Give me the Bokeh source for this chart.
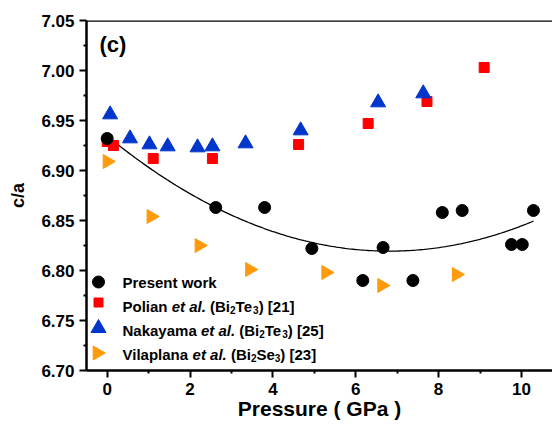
import numpy as np
from bokeh.plotting import figure
from bokeh.models import Range1d, FixedTicker, PrintfTickFormatter, Label, Span
from bokeh.embed import file_html
from bokeh.resources import INLINE

# ---------------- data ----------------
present_p = [0.0, 2.62, 3.80, 4.94, 6.17, 6.66, 7.38, 8.09, 8.57, 9.76, 10.02, 10.29]
present_ca = [6.932, 6.863, 6.863, 6.822, 6.790, 6.823, 6.790, 6.858, 6.860, 6.826, 6.826, 6.860]

polian_p = [0.0, 0.15, 1.11, 2.54, 4.62, 6.30, 7.72, 9.10]
polian_ca = [6.929, 6.925, 6.912, 6.912, 6.926, 6.947, 6.969, 7.003]

nakayama_p = [0.07, 0.55, 1.02, 1.46, 2.18, 2.54, 3.34, 4.67, 6.54, 7.63]
nakayama_ca = [6.956, 6.932, 6.926, 6.924, 6.923, 6.924, 6.927, 6.940, 6.968, 6.977]

vilaplana_p = [0.0, 1.06, 2.22, 3.44, 5.28, 6.63, 8.43]
vilaplana_ca = [6.909, 6.854, 6.825, 6.801, 6.798, 6.785, 6.796]

x_ticks = [0, 2, 4, 6, 8, 10]
x_minor_ticks = [1, 3, 5, 7, 9]
y_ticks = [6.70, 6.75, 6.80, 6.85, 6.90, 6.95, 7.00, 7.05]
y_minor_ticks = [6.725, 6.775, 6.825, 6.875, 6.925, 6.975, 7.025]

legend_names = ["Present work", "Polian", "Nakayama", "Vilaplana"]

X0, X1 = -0.5, 10.75
Y0, Y1 = 6.70, 7.05
FRAME_W, FRAME_H = 466, 350

FONT = "Liberation Sans"
C_PRE, C_POL, C_NAK, C_VIL = "black", "#FF0000", "#0036CC", "#FF9A0A"

# ---------------- figure ----------------
p = figure(frame_width=FRAME_W, frame_height=FRAME_H,
           x_range=Range1d(X0, X1), y_range=Range1d(Y0, Y1),
           output_backend="svg", toolbar_location=None,
           min_border_left=86, min_border_right=0, min_border_top=20,
           min_border_bottom=10)
p.title.visible = False
p.outline_line_color = None
p.grid.visible = False
p.background_fill_color = "white"

for ax in (p.xaxis[0], p.yaxis[0]):
    ax.axis_line_width = 2.5
    ax.axis_line_color = "black"
    ax.major_tick_line_width = 2
    ax.minor_tick_line_width = 2
    ax.major_tick_out = 7
    ax.major_tick_in = 0
    ax.minor_tick_out = 3
    ax.minor_tick_in = 0
    ax.major_label_text_font = FONT
    ax.major_label_text_font_style = "bold"
    ax.major_label_text_font_size = "17px"
    ax.major_label_text_color = "black"
    ax.axis_label_text_font = FONT
    ax.axis_label_text_font_style = "bold"
    ax.axis_label_text_color = "black"

p.xaxis.ticker = FixedTicker(ticks=x_ticks, minor_ticks=x_minor_ticks)
p.yaxis.ticker = FixedTicker(ticks=y_ticks, minor_ticks=y_minor_ticks)
p.yaxis.formatter = PrintfTickFormatter(format="%.2f")
p.xaxis.axis_label = "Pressure ( GPa )"
p.yaxis.axis_label = "c/a"
p.xaxis.axis_label_text_font_size = "21px"
p.yaxis.axis_label_text_font_size = "18px"
p.xaxis.major_label_standoff = 5
p.yaxis.major_label_standoff = 5
p.xaxis.axis_label_standoff = -1
p.yaxis.axis_label_standoff = 10

# top frame line
p.add_layout(Span(location=Y1, dimension="width", line_color="black", line_width=2.5))

# quadratic fit of present work
coef = np.polyfit(present_p, present_ca, 2)
fx = np.linspace(min(present_p), max(present_p), 200)
p.line(fx, np.polyval(coef, fx), line_color="black", line_width=1.3)

p.scatter(polian_p, polian_ca, marker="square", size=10,
          fill_color=C_POL, line_color=C_POL)
p.scatter(nakayama_p, nakayama_ca, marker="triangle", size=15,
          fill_color=C_NAK, line_color=C_NAK)
p.scatter(vilaplana_p, vilaplana_ca, marker="triangle", size=14, angle=-np.pi / 2,
          fill_color=C_VIL, line_color=C_VIL)
p.scatter(present_p, present_ca, marker="circle", size=12,
          fill_color=C_PRE, line_color=C_PRE)

# ---------------- legend (drawn in frame pixel offsets) ----------------
PX = (X1 - X0) / FRAME_W
PY = (Y1 - Y0) / FRAME_H


def swatch(dx, dy, **kw):
    p.scatter([X0 + dx * PX], [Y0 + dy * PY], **kw)


swatch(12, 88.5, marker="circle", size=12, fill_color=C_PRE, line_color=C_PRE)
swatch(12, 68, marker="square", size=9, fill_color=C_POL, line_color=C_POL)
swatch(12, 42.3, marker="triangle", size=15, fill_color=C_NAK, line_color=C_NAK)
swatch(10.7, 17.5, marker="triangle", size=14, angle=-np.pi / 2,
       fill_color=C_VIL, line_color=C_VIL)

W = {" ": 278, "(": 333, ")": 333, "[": 333, "]": 333, ".": 278,
     "0": 556, "1": 556, "2": 556, "3": 556, "4": 556, "5": 556,
     "B": 722, "N": 722, "P": 667, "S": 667, "T": 611, "V": 667,
     "a": 556, "e": 556, "i": 278, "k": 556, "l": 278, "m": 889, "n": 611,
     "o": 611, "p": 611, "r": 389, "s": 556, "t": 333, "w": 778, "y": 556}


def tw(s, size):
    return sum(W.get(c, 556) for c in s) * size / 1000.0


def add_runs(x_off, y_off, pieces):
    x = x_off
    for txt, style, size, dy in pieces:
        lead = len(txt) - len(txt.lstrip())
        p.add_layout(Label(x=X0, y=Y0, x_offset=x + lead * W[" "] * size / 1000.0,
                           y_offset=y_off + dy, text=txt.strip(), text_font=FONT,
                           text_font_style=style, text_font_size=f"{size}px",
                           text_color="black", text_baseline="alphabetic",
                           text_align="left"))
        x += tw(txt, size)


FS, SS, SD = 15, 10, -3.5
add_runs(36, 88.5, [(legend_names[0], "bold", FS, 0)])
add_runs(36, 64.5, [(legend_names[1] + " ", "bold", FS, 0), ("et al.", "bold italic", FS, 0),
                    (" (Bi", "bold", FS, 0), ("2", "bold", SS, SD), ("Te", "bold", FS, 0),
                    ("3", "bold", SS, SD), (") [21]", "bold", FS, 0)])
add_runs(36, 40.5, [(legend_names[2] + " ", "bold", FS, 0), ("et al.", "bold italic", FS, 0),
                    (" (Bi", "bold", FS, 0), ("2", "bold", SS, SD), ("Te", "bold", FS, 0),
                    ("3", "bold", SS, SD), (") [25]", "bold", FS, 0)])
add_runs(36, 16.5, [(legend_names[3] + " ", "bold", FS, 0), ("et al.", "bold italic", FS, 0),
                    (" (Bi", "bold", FS, 0), ("2", "bold", SS, SD), ("Se", "bold", FS, 0),
                    ("3", "bold", SS, SD), (") [23]", "bold", FS, 0)])

# panel tag
p.add_layout(Label(x=X0, y=Y1, x_offset=13, y_offset=-24, text="(c)", text_font=FONT,
                   text_font_style="bold", text_font_size="22px", text_color="black",
                   text_baseline="alphabetic", text_align="left"))

open("out.html", "w").write(file_html(p, INLINE))
